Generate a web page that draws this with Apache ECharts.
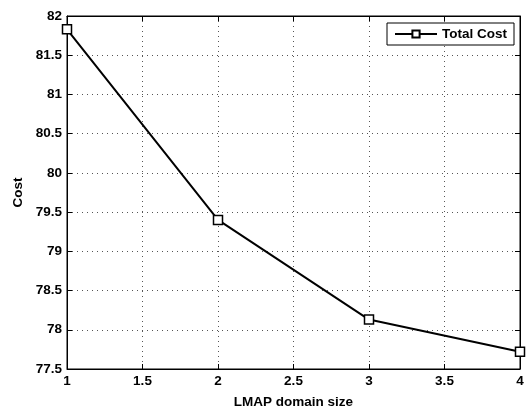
<!DOCTYPE html>
<html>
<head>
<meta charset="utf-8">
<script src="https://cdn.jsdelivr.net/npm/echarts@6/dist/echarts.min.js"></script>
<style>
html, body { margin: 0; padding: 0; background: #fff; }
#chart { width: 527px; height: 414px; }
</style>
</head>
<body>
<div id="chart"></div>
<script>
// LMAP domain size vs cost
var domainSizes = [1, 2, 3, 4];
var totalCost = [81.83, 79.40, 78.13, 77.72];
var seriesName = 'Total Cost';

var font = 'Liberation Sans, Arial, sans-serif';
var points = [];
for (var i = 0; i < domainSizes.length; i++) {
	points.push([domainSizes[i], totalCost[i]]);
}

var chart = echarts.init(document.getElementById('chart'));
var labelStyle = { color: '#000', fontFamily: font, fontWeight: 'bold', fontSize: 13.5 };
var dotted = { show: true, lineStyle: { color: '#555', type: [1, 4], width: 1 } };

var option = {
	backgroundColor: '#fff',
	animation: false,
	grid: {
		left: 67, right: 7, top: 16, bottom: 42,
		show: true, borderColor: '#000', borderWidth: 1
	},
	legend: {
		data: [seriesName],
		right: 13, top: 23,
		itemWidth: 42, itemHeight: 9,
		padding: [4, 7, 4, 7],
		borderColor: '#000', borderWidth: 1,
		backgroundColor: '#fff',
		textStyle: labelStyle
	},
	xAxis: [
		{
			type: 'value', min: 1, max: 4, interval: 0.5,
			name: 'LMAP domain size', nameLocation: 'middle', nameGap: 26,
			nameTextStyle: labelStyle,
			axisLine: { lineStyle: { color: '#000' } },
			axisTick: { inside: true, length: 5, lineStyle: { color: '#000' } },
			axisLabel: Object.assign({ margin: 5 }, labelStyle),
			splitLine: dotted
		},
		{
			type: 'value', min: 1, max: 4, interval: 0.5, position: 'top',
			axisLine: { lineStyle: { color: '#000' } },
			axisTick: { inside: true, length: 5, lineStyle: { color: '#000' } },
			axisLabel: { show: false }, splitLine: { show: false }
		}
	],
	yAxis: [
		{
			type: 'value', min: 77.5, max: 82, interval: 0.5,
			name: 'Cost', nameLocation: 'middle', nameGap: 38,
			nameTextStyle: labelStyle,
			axisLine: { show: true, lineStyle: { color: '#000' } },
			axisTick: { show: true, inside: true, length: 5, lineStyle: { color: '#000' } },
			axisLabel: Object.assign({ margin: 5 }, labelStyle),
			splitLine: dotted
		},
		{
			type: 'value', min: 77.5, max: 82, interval: 0.5, position: 'right',
			axisLine: { show: true, lineStyle: { color: '#000' } },
			axisTick: { show: true, inside: true, length: 5, lineStyle: { color: '#000' } },
			axisLabel: { show: false }, splitLine: { show: false }
		}
	],
	series: [
		{
			name: seriesName,
			type: 'line',
			data: points,
			symbol: 'rect',
			symbolSize: 9,
			showAllSymbol: true,
			lineStyle: { color: '#000', width: 2 },
			itemStyle: { color: '#fff', borderColor: '#000', borderWidth: 1.5 }
		}
	]
};
chart.setOption(option);
</script>
</body>
</html>
